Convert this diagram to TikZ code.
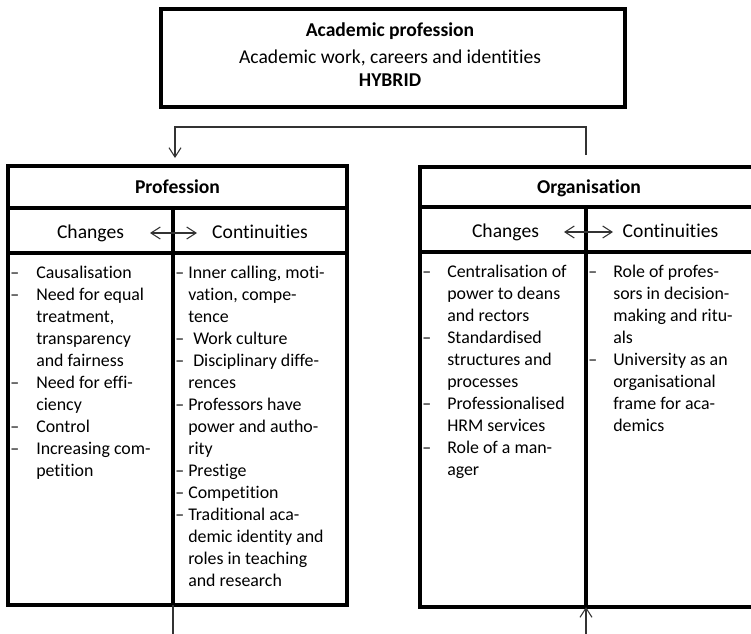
\documentclass[tikz,border=0pt]{standalone}
\usepackage{fontspec}
\setmainfont{Carlito}[Ligatures={NoCommon,NoRare,NoContextual}]
\usetikzlibrary{arrows.meta}
\newcommand\dashitem[1]{\leavevmode\llap{\makebox[#1][l]{–}}}
\begin{document}
\begin{tikzpicture}[x=0.75pt,y=-0.75pt,
  frame/.style={line width=2.4pt, line join=miter, line cap=rect},
  conn/.style={line width=0.8pt, draw=black!80},
  tip/.style={-{Straight Barb[length=7pt,width=9pt]}},
  twotip/.style={{Straight Barb[length=7pt,width=9pt]}-{Straight Barb[length=7pt,width=9pt]}},
  hdr/.style={font=\fontsize{14.7}{18}\selectfont, inner sep=0pt, anchor=base},
  hdrb/.style={font=\fontsize{14.7}{18}\selectfont\bfseries, inner sep=0pt, anchor=base},
  listnode/.style={font=\fontsize{13.4}{16.5}\selectfont, inner sep=0pt, anchor=base west}]
\useasboundingbox (0,0) rectangle (751,633);
\clip (0,0) rectangle (751,633);

% top box
\draw[frame] (161,9) rectangle (625,107);
\node[hdrb] (t1) at (390,36) {Academic profession};
\node[hdr] (t2) at (390,63) {Academic work, careers and identities};
\node[hdrb] (t3) at (390,86) {HYBRID};

% connector from top
\coordinate (orgIn) at (586,155);
\coordinate (bendR) at (586,127);
\coordinate (bendL) at (175,127);
\coordinate (profIn) at (175,158);
\draw[conn, tip] (orgIn) -- (bendR) -- (bendL) -- (profIn);

% Profession box
\draw[frame] (8,166) rectangle (347,605);
\draw[frame] (8,208) -- (347,208);
\draw[frame] (8,253) -- (347,253);
\draw[frame] (173,208) -- (173,605);
\node[hdrb] (prof) at (177.5,193) {Profession};
\node[hdr] (pch) at (90.5,238) {Changes};
\node[hdr] (pco) at (260,238) {Continuities};
\coordinate (pa1) at (150,233);
\coordinate (pa2) at (197,233);
\draw[conn, twotip] (pa1) -- (pa2);
\coordinate (pbot) at (173,605);
\coordinate (pout) at (173,640);
\draw[conn] (pbot) -- (pout);

\node[listnode] (plc) at (36,278) {\parbox[t]{130pt}{\raggedright
\dashitem{19.5pt}Causalisation\\
\dashitem{19.5pt}Need for equal\\
treatment,\\
transparency\\
and fairness\\
\dashitem{19.5pt}Need for effi-\\
ciency\\
\dashitem{19.5pt}Control\\
\dashitem{19.5pt}Increasing com-\\
petition}};

\node[listnode] (plo) at (188,278) {\parbox[t]{130pt}{\raggedright
\dashitem{9.75pt}Inner calling, moti-\\
vation, compe-\\
tence\\
\dashitem{9.75pt}\hspace{3.75pt}Work culture\\
\dashitem{9.75pt}\hspace{3.75pt}Disciplinary diffe-\\
rences\\
\dashitem{9.75pt}Professors have\\
power and autho-\\
rity\\
\dashitem{9.75pt}Prestige\\
\dashitem{9.75pt}Competition\\
\dashitem{9.75pt}Traditional aca-\\
demic identity and\\
roles in teaching\\
and research}};

% Organisation box
\draw[frame] (420,167) rectangle (757,607);
\draw[frame] (420,207) -- (757,207);
\draw[frame] (420,252) -- (757,252);
\draw[frame] (586,207) -- (586,607);
\node[hdrb] (org) at (589,193) {Organisation};
\node[hdr] (och) at (505.5,237) {Changes};
\node[hdr] (oco) at (670.5,237) {Continuities};
\coordinate (oa1) at (564,232);
\coordinate (oa2) at (613,232);
\draw[conn, twotip] (oa1) -- (oa2);
\coordinate (obot) at (586,607);
\coordinate (oin) at (586,640);
\draw[conn, tip] (oin) -- (obot);

\node[listnode] (olc) at (447,277) {\parbox[t]{130pt}{\raggedright
\dashitem{18.75pt}Centralisation of\\
power to deans\\
and rectors\\
\dashitem{18.75pt}Standardised\\
structures and\\
processes\\
\dashitem{18.75pt}Professionalised\\
HRM services\\
\dashitem{18.75pt}Role of a man-\\
ager}};

\node[listnode] (olo) at (613,277) {\parbox[t]{130pt}{\raggedright
\dashitem{18.75pt}Role of profes-\\
sors in decision-\\
making and ritu-\\
als\\
\dashitem{18.75pt}University as an\\
organisational\\
frame for aca-\\
demics}};
\end{tikzpicture}
\end{document}
